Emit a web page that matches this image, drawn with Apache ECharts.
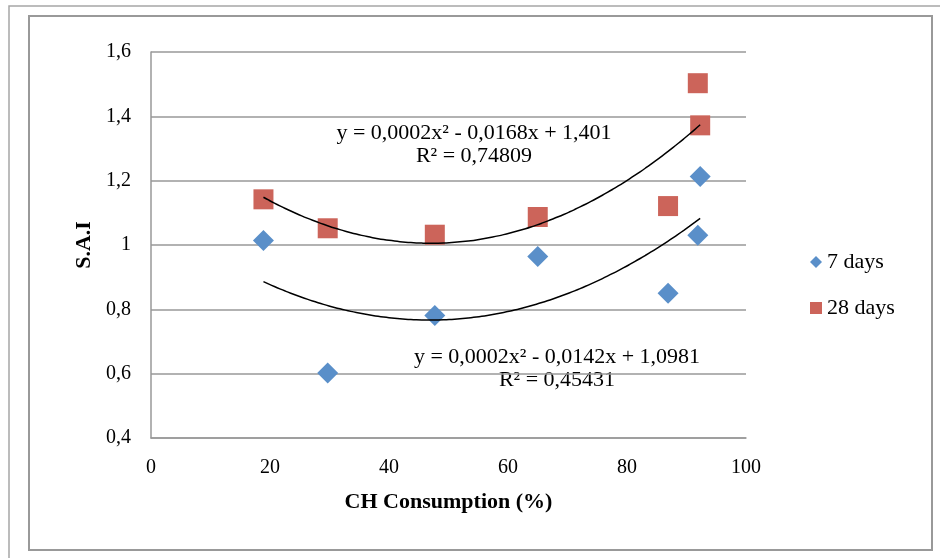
<!DOCTYPE html>
<html>
<head>
<meta charset="utf-8">
<script src="https://cdn.jsdelivr.net/npm/echarts@6/dist/echarts.min.js"></script>
<style>
  html, body { margin: 0; padding: 0; background: #fff; }
  #chart { width: 940px; height: 558px; }
</style>
</head>
<body>
<div id="chart"></div>
<script>
// CH consumption (%) per sample, and S.A.I for each curing age
const chX = [18.9, 29.7, 47.7, 65.0, 86.9, 91.9, 92.3];
const sai7 = [1.014, 0.602, 0.781, 0.964, 0.850, 1.030, 1.213];
const sai28 = [1.142, 1.052, 1.032, 1.087, 1.121, 1.503, 1.372];
const seriesNames = ['7 days', '28 days'];
const eq7 = ['y = 0,0002x² - 0,0142x + 1,0981', 'R² = 0,45431'];
const eq28 = ['y = 0,0002x² - 0,0168x + 1,401', 'R² = 0,74809'];

const FONT = '"Liberation Serif", "DejaVu Serif", serif';

// least squares 2nd order polynomial, like the excel trendline
function polyFit(xs, ys) {
    let s = [0, 0, 0, 0, 0], t = [0, 0, 0];
    xs.forEach((x, i) => {
        for (let k = 0; k < 5; k++) s[k] += Math.pow(x, k);
        for (let k = 0; k < 3; k++) t[k] += ys[i] * Math.pow(x, k);
    });
    const m = [
        [s[0], s[1], s[2], t[0]],
        [s[1], s[2], s[3], t[1]],
        [s[2], s[3], s[4], t[2]]
    ];
    for (let i = 0; i < 3; i++) {
        for (let j = i + 1; j < 3; j++) {
            const f = m[j][i] / m[i][i];
            for (let k = i; k < 4; k++) m[j][k] -= f * m[i][k];
        }
    }
    const c = [0, 0, 0];
    for (let i = 2; i >= 0; i--) {
        let v = m[i][3];
        for (let k = i + 1; k < 3; k++) v -= m[i][k] * c[k];
        c[i] = v / m[i][i];
    }
    return c;
}

function trendPoints(xs, ys) {
    const c = polyFit(xs, ys);
    const lo = Math.min(...xs), hi = Math.max(...xs);
    const pts = [];
    for (let i = 0; i <= 80; i++) {
        const x = lo + (hi - lo) * i / 80;
        pts.push([x, c[0] + c[1] * x + c[2] * x * x]);
    }
    return pts;
}

const chart = echarts.init(document.getElementById('chart'));

const eqStyle = { fill: '#000', font: '22px ' + FONT, textAlign: 'center', textVerticalAlign: 'middle' };

chart.setOption({
    animation: false,
    textStyle: { fontFamily: FONT },
    grid: { left: 151, top: 52, right: 194, bottom: 120 },
    legend: {
        orient: 'vertical',
        left: 805,
        top: 246,
        itemWidth: 12,
        itemHeight: 12,
        itemGap: 24,
        data: seriesNames,
        textStyle: { fontFamily: FONT, fontSize: 22, color: '#000' }
    },
    xAxis: {
        type: 'value',
        min: 0,
        max: 100,
        interval: 20,
        name: 'CH Consumption (%)',
        nameLocation: 'middle',
        nameGap: 53,
        nameTextStyle: { fontFamily: FONT, fontSize: 22, fontWeight: 'bold', color: '#000' },
        axisLine: { show: true, lineStyle: { color: '#999', width: 1.5 } },
        axisTick: { show: false },
        splitLine: { show: false },
        axisLabel: { margin: 20, fontFamily: FONT, fontSize: 20, color: '#000' }
    },
    yAxis: {
        type: 'value',
        min: 0.4,
        max: 1.6,
        interval: 0.2,
        name: 'S.A.I',
        nameLocation: 'middle',
        nameGap: 55,
        nameTextStyle: { fontFamily: FONT, fontSize: 22, fontWeight: 'bold', color: '#000' },
        axisLine: { show: true, lineStyle: { color: '#999', width: 1.5 } },
        axisTick: { show: false },
        splitLine: { show: true, lineStyle: { color: '#999', width: 1.5 } },
        axisLabel: {
            margin: 20,
            fontFamily: FONT,
            fontSize: 20,
            color: '#000',
            formatter: v => String(Math.round(v * 10) / 10).replace('.', ',')
        }
    },
    series: [
        {
            name: seriesNames[0],
            type: 'scatter',
            symbol: 'diamond',
            symbolSize: 21,
            itemStyle: { color: '#5a8fc9', opacity: 1 },
            data: chX.map((x, i) => [x, sai7[i]]),
            z: 3
        },
        {
            name: seriesNames[1],
            type: 'scatter',
            symbol: 'rect',
            symbolSize: 20,
            itemStyle: { color: '#cc645a', opacity: 1 },
            data: chX.map((x, i) => [x, sai28[i]]),
            z: 2
        },
        {
            name: 'trend7',
            type: 'line',
            showSymbol: false,
            smooth: true,
            lineStyle: { color: '#000', width: 1.5 },
            data: trendPoints(chX, sai7),
            z: 4
        },
        {
            name: 'trend28',
            type: 'line',
            showSymbol: false,
            smooth: true,
            lineStyle: { color: '#000', width: 1.5 },
            data: trendPoints(chX, sai28),
            z: 4
        }
    ],
    graphic: [
        { type: 'rect', shape: { x: 9, y: 6, width: 1000, height: 1000 }, style: { fill: 'none', stroke: '#a6a6a6', lineWidth: 1.5 }, silent: true },
        { type: 'rect', shape: { x: 29, y: 16, width: 903, height: 534 }, style: { fill: 'none', stroke: '#999', lineWidth: 2 }, silent: true },
        { type: 'text', x: 474, y: 133, style: Object.assign({ text: eq28[0] }, eqStyle) },
        { type: 'text', x: 474, y: 156, style: Object.assign({ text: eq28[1] }, eqStyle) },
        { type: 'text', x: 557, y: 357, style: Object.assign({ text: eq7[0] }, eqStyle) },
        { type: 'text', x: 557, y: 380, style: Object.assign({ text: eq7[1] }, eqStyle) }
    ]
});
</script>
</body>
</html>
